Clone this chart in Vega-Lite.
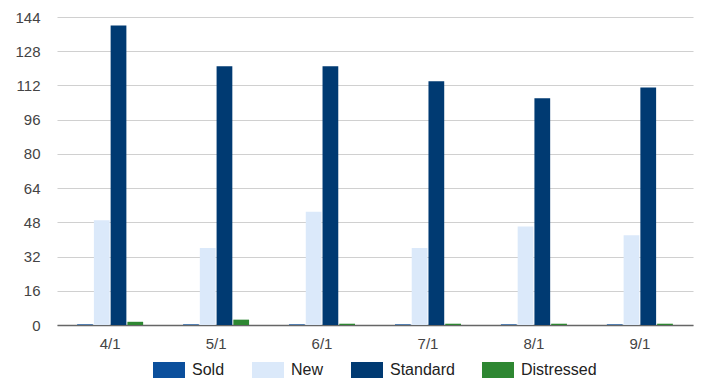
{
  "$schema": "https://vega.github.io/schema/vega-lite/v6.json",
  "width": 636,
  "height": 308,
  "autosize": "none",
  "padding": {"left": 57, "top": 17, "right": 10, "bottom": 63},
  "background": "white",
  "data": {
    "values": [
      {"date": "4/1", "series": "Sold", "value": 0.3},
      {"date": "4/1", "series": "New", "value": 49},
      {"date": "4/1", "series": "Standard", "value": 140},
      {"date": "4/1", "series": "Distressed", "value": 1.5},
      {"date": "5/1", "series": "Sold", "value": 0.3},
      {"date": "5/1", "series": "New", "value": 36},
      {"date": "5/1", "series": "Standard", "value": 121},
      {"date": "5/1", "series": "Distressed", "value": 2.5},
      {"date": "6/1", "series": "Sold", "value": 0.3},
      {"date": "6/1", "series": "New", "value": 53},
      {"date": "6/1", "series": "Standard", "value": 121},
      {"date": "6/1", "series": "Distressed", "value": 0.6},
      {"date": "7/1", "series": "Sold", "value": 0.3},
      {"date": "7/1", "series": "New", "value": 36},
      {"date": "7/1", "series": "Standard", "value": 114},
      {"date": "7/1", "series": "Distressed", "value": 0.6},
      {"date": "8/1", "series": "Sold", "value": 0.3},
      {"date": "8/1", "series": "New", "value": 46},
      {"date": "8/1", "series": "Standard", "value": 106},
      {"date": "8/1", "series": "Distressed", "value": 0.6},
      {"date": "9/1", "series": "Sold", "value": 0.3},
      {"date": "9/1", "series": "New", "value": 42},
      {"date": "9/1", "series": "Standard", "value": 111},
      {"date": "9/1", "series": "Distressed", "value": 0.6}
    ]
  },
  "config": {
    "view": {"stroke": null},
    "font": "Liberation Sans",
    "axis": {"labelFont": "Liberation Sans", "labelFontSize": 15, "labelColor": "#444444"},
    "legend": {"labelFont": "Liberation Sans", "labelFontSize": 16, "labelColor": "#222222"}
  },
  "mark": {"type": "bar"},
  "encoding": {
    "x": {
      "field": "date",
      "type": "nominal",
      "sort": ["4/1", "5/1", "6/1", "7/1", "8/1", "9/1"],
      "scale": {"paddingInner": 0.377, "paddingOuter": 0.19},
      "axis": {
        "title": null,
        "labelAngle": 0,
        "ticks": false,
        "domainColor": "#666666",
        "domainWidth": 1.5,
        "labelPadding": 11,
        "grid": false
      }
    },
    "xOffset": {
      "field": "series",
      "type": "nominal",
      "sort": ["Sold", "New", "Standard", "Distressed"],
      "scale": {"paddingInner": 0.06}
    },
    "y": {
      "field": "value",
      "type": "quantitative",
      "scale": {"domain": [0, 144], "nice": false},
      "axis": {
        "title": null,
        "values": [0, 16, 32, 48, 64, 80, 96, 112, 128, 144],
        "ticks": false,
        "domain": false,
        "gridColor": "#d0d0d0",
        "gridWidth": 1.2,
        "labelPadding": 17
      }
    },
    "color": {
      "field": "series",
      "type": "nominal",
      "sort": ["Sold", "New", "Standard", "Distressed"],
      "scale": {
        "domain": ["Sold", "New", "Standard", "Distressed"],
        "range": ["#0b4f9c", "#dbe9fa", "#003a72", "#2e8732"]
      },
      "legend": {
        "title": null,
        "orient": "none",
        "legendX": 96,
        "legendY": 337,
        "direction": "horizontal",
        "symbolType": "M-1,-0.5h2v1h-2Z",
        "symbolSize": 1024,
        "symbolStrokeWidth": 0,
        "symbolOpacity": 1,
        "labelOffset": 7,
        "columnPadding": 27
      }
    }
  }
}
